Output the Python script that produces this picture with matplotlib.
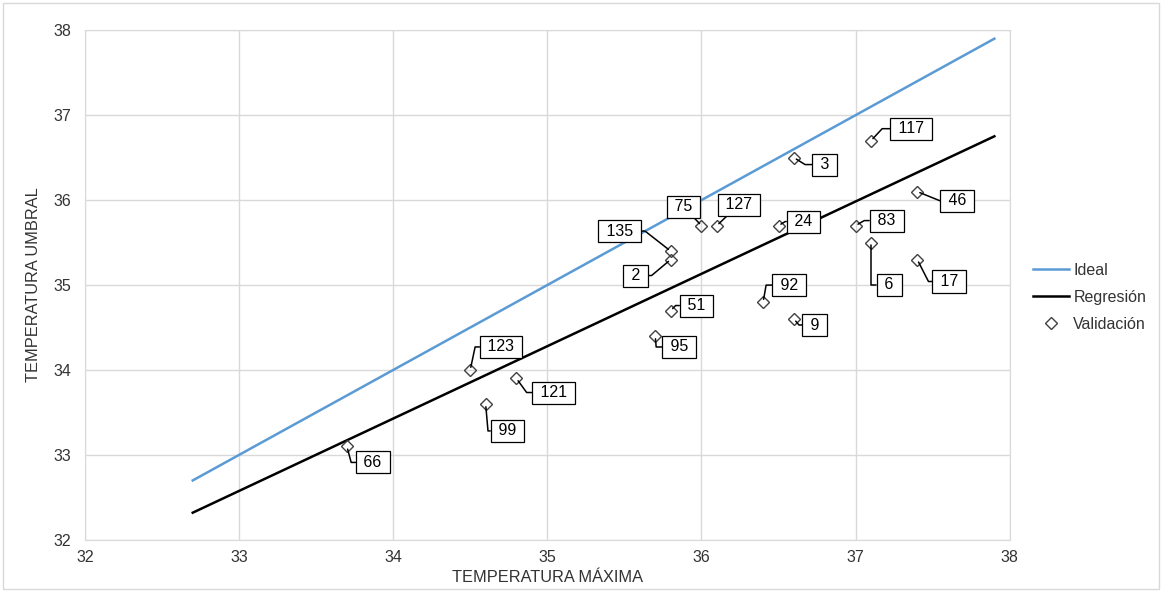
import matplotlib.pyplot as plt
from matplotlib.patches import Rectangle
import numpy as np

plt.rcParams['font.family'] = ['Liberation Sans', 'DejaVu Sans']

# Puntos de validación: temperatura máxima vs temperatura umbral
ids = [117, 3, 46, 75, 127, 24, 83, 135, 2, 6, 17, 92, 51, 9, 95, 123, 121, 99, 66]
t_max = [37.1, 36.6, 37.4, 36.0, 36.1, 36.5, 37.0, 35.8, 35.8, 37.1, 37.4,
         36.4, 35.8, 36.6, 35.7, 34.5, 34.8, 34.6, 33.7]
t_umbral = [36.7, 36.5, 36.1, 35.7, 35.7, 35.7, 35.7, 35.4, 35.3, 35.5, 35.3,
            34.8, 34.7, 34.6, 34.4, 34.0, 33.9, 33.6, 33.1]

# recta de regresión y rango de las rectas
pendiente = 0.852
ordenada = 4.46
x_rango = [32.7, 37.9]

# posición de cada etiqueta (puntos) y ángulo del conector
desplaz = [(28.8, 8.6), (22.3, -5.0), (28.8, -6.5), (-13, 13.7), (15.8, 15.1),
           (18, 2.9), (22.3, 3.6), (-36.7, 14.4), (-25.2, -11.5), (13, -30.2),
           (23, -15.8), (18.7, 12.2), (18.7, 3.6), (15.1, -4.3), (17.3, -7.9),
           (22.3, 16.6), (26.6, -10.1), (15.8, -19.4), (18.7, -11.5)]
angulos = [47, -32, -22, None, None, 31, 30, -38, 40, 90, -63, 80, 45, -50,
           -85, 78, -54, -85, -75]

fig = plt.figure(figsize=(11.62, 5.92), dpi=100)
ax = fig.add_axes([0.073, 0.088, 0.796, 0.861])

gris = '#d9d9d9'
texto = '#333333'
xr = np.array(x_rango)
ax.plot(xr, xr, color='#5b9bd5', lw=1.8, label='Ideal', zorder=3)
ax.plot(xr, pendiente * xr + ordenada, color='black', lw=1.8, label='Regresión', zorder=3)
ax.plot(t_max, t_umbral, ls='none', marker='D', ms=6.5, mfc='none', mec='#404040',
        mew=1.0, label='Validación', zorder=5)

for i, x, y, off, ang in zip(ids, t_max, t_umbral, desplaz, angulos):
    if ang is None:
        estilo = 'arc3'
    else:
        estilo = f'angle,angleA=0,angleB={ang},rad=0'
    ax.annotate(f' {i} ', xy=(x, y), xytext=off, textcoords='offset points',
                ha='center', va='center', fontsize=11.5, color='black',
                bbox=dict(boxstyle='square,pad=0.22', fc='white', ec='black', lw=0.9),
                arrowprops=dict(arrowstyle='-', color='black', lw=1.1,
                                shrinkA=0, shrinkB=2, connectionstyle=estilo),
                zorder=6)

ax.set_xlim(32, 38)
ax.set_ylim(32, 38)
ax.set_xticks(range(32, 39))
ax.set_yticks(range(32, 39))
ax.grid(True, color=gris, lw=1)
ax.set_axisbelow(True)
for s in ax.spines.values():
    s.set_color(gris)
ax.tick_params(length=0, labelsize=11.5, labelcolor=texto)
ax.tick_params(axis='y', pad=10)
ax.tick_params(axis='x', pad=7)
ax.set_xlabel('TEMPERATURA MÁXIMA', fontsize=11.8, color=texto, labelpad=4)
ax.set_ylabel('TEMPERATURA UMBRAL', fontsize=11.8, color=texto, labelpad=9)

fig.legend(loc='center left', bbox_to_anchor=(0.877, 0.498), frameon=False,
           fontsize=11.5, handlelength=2.2, labelspacing=0.75, handletextpad=0.3,
           labelcolor=texto)

fig.patches.append(Rectangle((0.003, 0.005), 0.994, 0.99, transform=fig.transFigure,
                             fill=False, ec=gris, lw=1))

fig.savefig('out.png', dpi=100)
